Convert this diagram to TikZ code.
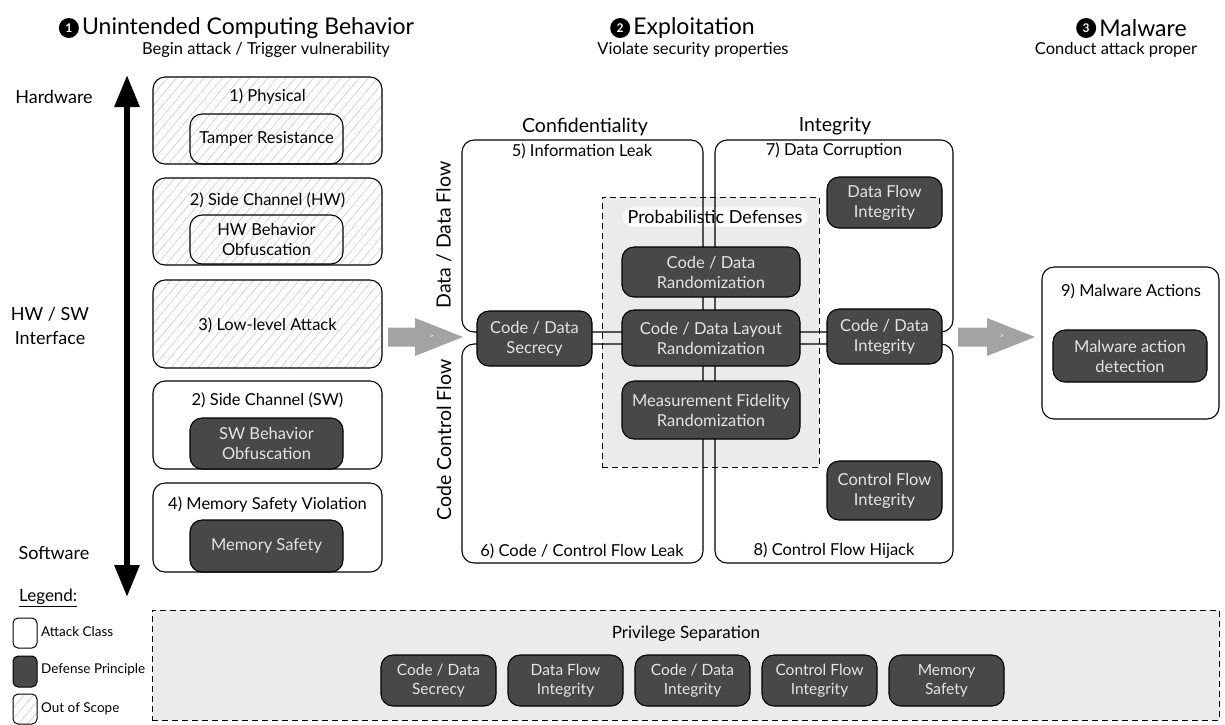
\documentclass[tikz,border=0pt]{standalone}
\usepackage{fontspec}
\setmainfont{Lato}
\usetikzlibrary{patterns.meta,arrows.meta}
\definecolor{dark}{HTML}{484848}
\definecolor{darktext}{HTML}{E4E4E4}
\definecolor{lightbg}{HTML}{EBEBEB}
\definecolor{arrowgray}{HTML}{A3A3A3}
\definecolor{hatchcol}{HTML}{C4C4C4}
\begin{document}
\begin{tikzpicture}[x=1pt,y=-1pt,
  attack/.style={draw, line width=1.1pt, rounded corners=12pt, inner sep=0pt},
  hatched/.style={pattern={Lines[angle=50,distance=7pt,line width=0.5pt]}, pattern color=hatchcol},
  defense/.style={draw, line width=1.1pt, rounded corners=12pt, fill=dark, text=darktext, align=center, inner sep=0pt, font=\fontsize{16.5}{20}\selectfont},
  outline/.style={draw, line width=1.1pt, rounded corners=12pt, align=center, inner sep=0pt, font=\fontsize{16.5}{20}\selectfont},
  lbl/.style={font=\fontsize{16.5}{20}\selectfont, inner sep=0pt},
  hdr/.style={font=\fontsize{18}{24}\selectfont, inner sep=0pt, align=center},
  colhdr/.style={font=\fontsize{19.5}{24}\selectfont, inner sep=0pt},
  ttl/.style={font=\fontsize{23}{28}\selectfont, inner sep=0pt},
  sub/.style={font=\fontsize{16.5}{20}\selectfont, inner sep=0pt},
  badge/.style={circle, fill=black, text=white, minimum size=20pt, inner sep=0pt, font=\fontsize{12}{12}\selectfont\bfseries},
  dashbox/.style={draw, line width=1pt, dash pattern=on 6pt off 4pt, fill=lightbg, inner sep=0pt},
  legtxt/.style={font=\fontsize{13.5}{16}\selectfont, anchor=west, inner sep=0pt},
  blockarrow/.style={fill=arrowgray},
]
\useasboundingbox (0,0) rectangle (1225,724);

% ---- titles
\node[ttl] (t1) at (248,28) {Unintended Computing Behavior};
\node[badge] (n1) at ([xshift=-13pt]t1.west) {1};
\node[sub] (s1) at (266,50) {Begin attack / Trigger vulnerability};
\node[ttl] (t2) at (694,28) {Exploitation};
\node[badge] (n2) at ([xshift=-13pt]t2.west) {2};
\node[sub] (s2) at (693,50) {Violate security properties};
\node[ttl] (t3) at (1143,28) {Malware};
\node[badge] (n3) at ([xshift=-13pt]t3.west) {3};
\node[sub] (s3) at (1116,50) {Conduct attack proper};

% ---- left axis
\node[hdr] (hw) at (54,97) {Hardware};
\node[hdr] (hwsw) at (50,326) {HW / SW\\Interface};
\node[hdr] (sw) at (54,553) {Software};
\coordinate (axtop) at (127,75);
\coordinate (axbot) at (127,597);
\draw[line width=6pt, {Triangle[width=24pt,length=32pt]}-{Triangle[width=24pt,length=32pt]}] (axbot) -- (axtop);

% ---- left column
\node[attack, hatched, minimum width=229pt, minimum height=87pt] (b1) at (267.5,120.5) {};
\node[lbl] (b1t) at (267.5,97) {1) Physical};
\node[outline, minimum width=153pt, minimum height=50pt] (tamper) at (266.5,139) {Tamper Resistance};

\node[attack, hatched, minimum width=229pt, minimum height=87pt] (b2) at (267.5,221.5) {};
\node[lbl] (b2t) at (267.5,200) {2) Side Channel (HW)};
\node[outline, minimum width=153pt, minimum height=49pt] (hwobf) at (266.5,239.5) {HW Behavior\\Obfuscation};

\node[attack, hatched, minimum width=229pt, minimum height=88pt] (b3) at (267.5,324) {};
\node[lbl] (b3t) at (267.5,325) {3) Low-level Attack};

\node[attack, fill=white, minimum width=229pt, minimum height=88pt] (b4) at (267.5,425) {};
\node[lbl] (b4t) at (267.5,400) {2) Side Channel (SW)};
\node[defense, minimum width=153pt, minimum height=51pt] (swobf) at (266.5,443.5) {SW Behavior\\Obfuscation};

\node[attack, fill=white, minimum width=229pt, minimum height=89pt] (b5) at (267.5,527.5) {};
\node[lbl] (b5t) at (267.5,505) {4) Memory Safety Violation};
\node[defense, minimum width=153pt, minimum height=52pt] (memsafe) at (266.5,546) {Memory Safety};

% ---- block arrows
\fill[blockarrow] (388,327.5) -- (415,327.5) -- (415,318) -- (463,337) -- (415,356) -- (415,346.5) -- (388,346.5) -- cycle;
\node[font=\fontsize{7}{7}\selectfont, text=white, inner sep=0pt] (arrA) at (432,337) {>};
\fill[blockarrow] (958,327.5) -- (987,327.5) -- (987,318) -- (1035,337) -- (987,356) -- (987,346.5) -- (958,346.5) -- cycle;
\node[font=\fontsize{7}{7}\selectfont, text=white, inner sep=0pt] (arrB) at (1002,337) {>};

% ---- middle
\node[colhdr] (conf) at (585,127) {Confidentiality};
\node[colhdr] (integ) at (835,126) {Integrity};
\node[colhdr, rotate=90] (ddf) at (444,235) {Data / Data Flow};
\node[colhdr, rotate=90] (ccf) at (444,440) {Code Control Flow};

\node[dashbox, minimum width=217pt, minimum height=270pt] (prob) at (710.5,332) {};
\node[fill=white, rounded corners=10pt, inner xsep=5pt, inner ysep=3pt, font=\fontsize{18}{21}\selectfont] (problbl) at (715,217) {Probabilistic Defenses};

\node[attack, minimum width=241pt, minimum height=192pt] (q5) at (582.5,236) {};
\node[attack, minimum width=238pt, minimum height=192pt] (q7) at (834,236) {};
\node[attack, minimum width=241pt, minimum height=219pt] (q6) at (582.5,453.5) {};
\node[attack, minimum width=238pt, minimum height=219pt] (q8) at (834,453.5) {};
\node[lbl] (q5t) at (582,151) {5) Information Leak};
\node[lbl] (q7t) at (834,151) {7) Data Corruption};
\node[lbl] (q6t) at (582,551) {6) Code / Control Flow Leak};
\node[lbl] (q8t) at (834,551) {8) Control Flow Hijack};

\node[defense, minimum width=178pt, minimum height=50pt] (rand) at (711,272) {Code / Data\\Randomization};
\node[defense, minimum width=178pt, minimum height=56pt] (layout) at (711,338) {Code / Data Layout\\Randomization};
\node[defense, minimum width=178pt, minimum height=58pt] (meas) at (711,410) {Measurement Fidelity\\Randomization};
\node[defense, minimum width=115pt, minimum height=55pt] (secr) at (534.5,338.5) {Code / Data\\Secrecy};
\node[defense, minimum width=115pt, minimum height=55pt] (cdi) at (884.5,336.5) {Code / Data\\Integrity};
\node[defense, minimum width=115pt, minimum height=51pt] (dfi) at (884.5,202.5) {Data Flow\\Integrity};
\node[defense, minimum width=115pt, minimum height=59pt] (cfi) at (884.5,490.5) {Control Flow\\Integrity};

% ---- malware
\node[attack, minimum width=177pt, minimum height=152pt] (b9) at (1130.5,343) {};
\node[lbl] (b9t) at (1131,291) {9) Malware Actions};
\node[defense, minimum width=154pt, minimum height=52pt] (mad) at (1130,356) {Malware action\\detection};

% ---- legend
\node[font=\fontsize{17}{20}\selectfont, anchor=west, inner sep=0pt] (leg) at (19,598) {\underline{Legend:}};
\node[draw, line width=1pt, rounded corners=5pt, fill=white, minimum width=24pt, minimum height=30pt, inner sep=0pt] (lg1) at (25,633) {};
\node[legtxt] (lg1t) at (41,632) {Attack Class};
\node[draw, line width=1pt, rounded corners=5pt, fill=dark, minimum width=24pt, minimum height=31pt, inner sep=0pt] (lg2) at (25,671.5) {};
\node[legtxt] (lg2t) at (41,670) {Defense Principle};
\node[draw, line width=1pt, rounded corners=5pt, hatched, minimum width=24pt, minimum height=30pt, inner sep=0pt] (lg3) at (25,709) {};
\node[legtxt] (lg3t) at (41,709) {Out of Scope};

% ---- privilege separation
\node[dashbox, minimum width=1067pt, minimum height=110pt] (priv) at (685.5,665) {};
\node[font=\fontsize{17}{20}\selectfont, inner sep=0pt] (privt) at (686,634) {Privilege Separation};
\node[defense, minimum width=115pt, minimum height=51pt, font=\fontsize{15.5}{19}\selectfont] (p1) at (438.5,680.5) {Code / Data\\Secrecy};
\node[defense, minimum width=115pt, minimum height=51pt, font=\fontsize{15.5}{19}\selectfont] (p2) at (565.5,680.5) {Data Flow\\Integrity};
\node[defense, minimum width=115pt, minimum height=51pt, font=\fontsize{15.5}{19}\selectfont] (p3) at (692.5,680.5) {Code / Data\\Integrity};
\node[defense, minimum width=115pt, minimum height=51pt, font=\fontsize{15.5}{19}\selectfont] (p4) at (819.5,680.5) {Control Flow\\Integrity};
\node[defense, minimum width=115pt, minimum height=51pt, font=\fontsize{15.5}{19}\selectfont] (p5) at (946.5,680.5) {Memory\\Safety};
\end{tikzpicture}
\end{document}
